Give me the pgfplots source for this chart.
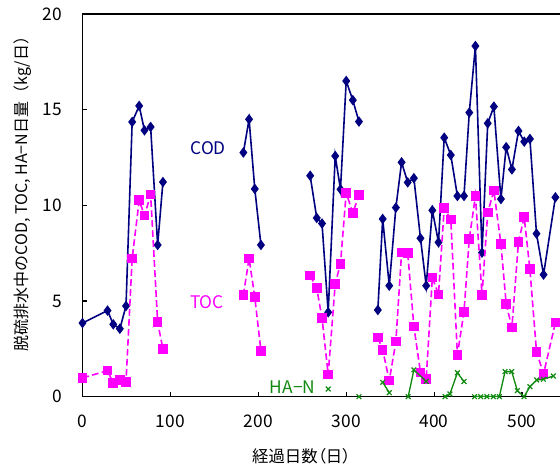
\documentclass[border=0pt]{standalone}
\usepackage{fontspec}
\setmainfont{Noto Sans CJK JP}
\usepackage{pgfplots}
\pgfplotsset{compat=1.18}
\definecolor{codblue}{HTML}{000080}
\definecolor{tocmag}{HTML}{FF00FF}
\definecolor{hangreen}{HTML}{108A10}

\begin{document}
\begin{tikzpicture}
% picture is cut off on the right like the reference (1px = 0.75pt)
\useasboundingbox (-61.875pt,-53.475pt) rectangle (358.125pt,297.5pt);
\begin{axis}[
  at={(0,0)}, anchor=south west,
  x=0.65925pt, y=14.3475pt,
  xmin=0, xmax=600, ymin=0, ymax=20,
  axis line style={line width=1.2pt},
  xtick={0,100,...,500}, ytick={0,5,...,20},
  tick align=inside, xtick pos=bottom, ytick pos=left,
  major tick length=3.5pt, tick style={line width=0.8pt, black},
  /pgf/number format/assume math mode=true,
  ticklabel style={font=\fontsize{13}{15}\selectfont, inner sep=0pt},
  yticklabel style={anchor=east, xshift=-15.4pt},
  xticklabel style={anchor=north, yshift=-13.7pt},
  xlabel={経過日数（日）},
  xlabel style={at={(axis description cs:0.415,-0.155)}, anchor=center, font=\fontsize{12.3}{14}\selectfont\addfontfeatures{RawFeature=+palt}},
  ylabel={脱硫排水中のCOD, TOC, HA−N日量（kg/日）},
  ylabel style={at={(axis description cs:-0.1128,0.54)}, anchor=center, font=\fontsize{12}{14}\selectfont},
  unbounded coords=jump,
  clip mode=individual,
]
% COD
\addplot[codblue, line width=1.2pt, mark=diamond*, mark size=3pt, mark options={fill=codblue}] coordinates {
(0,3.85)(28.5,4.5)(35,3.78)(42.5,3.55)(49.5,4.74)(56.5,14.36)(64.5,15.2)(70.5,13.92)(77.5,14.1)(85.5,7.93)(91.5,11.22)
(140,nan)
(183,12.76)(189.5,14.5)(196,10.86)(203,7.93)
(230,nan)
(259,11.55)(266.5,9.34)(272.5,9.05)(279.5,4.41)(287.5,12.58)(293.5,10.84)(300,16.5)(307.5,15.5)(314.5,14.38)
(325,nan)
(336,4.53)(341.5,9.29)(349,5.8)(356.5,9.88)(363,12.25)(370,11.2)(377,11.42)(384.5,8.28)(391,5.8)(398,9.74)(405,8.07)(411.5,13.54)(419,12.63)(426.5,10.49)(434,10.49)(440,14.85)(447,18.33)(454.5,7.53)(461,14.29)(468,15.16)(476,10.33)(482,13.04)(488.5,11.88)(496,13.89)(502.5,13.33)(509,13.47)(516.5,8.52)(524.5,6.38)(538,10.42)
};
% TOC
\addplot[tocmag, line width=1.2pt, dash pattern=on 5pt off 2.5pt, mark=square*, mark size=3pt, mark options={solid, fill=tocmag}] coordinates {
(0,0.98)(28.5,1.36)(35,0.7)(42.5,0.87)(49.5,0.77)(56.5,7.23)(64.5,10.27)(70.5,9.46)(77.5,10.56)(85.5,3.89)(91.5,2.49)
(140,nan)
(183,5.3)(189.5,7.23)(196,5.2)(203,2.39)
(230,nan)
(259,6.33)(266.5,5.67)(272.5,4.1)(279.5,1.15)(287.5,5.9)(293.5,6.95)(300,10.66)(307.5,9.59)(314.5,10.54)
(325,nan)
(336,3.09)(341.5,2.44)(349,0.84)(356.5,2.88)(363,7.53)(370,7.5)(377,3.66)(384.5,1.27)(391,0.93)(398,6.22)(405,5.35)(411.5,9.85)(419,9.27)(426.5,2.18)(434,4.44)(440,8.24)(447,10.49)(454.5,5.32)(461,9.62)(468,10.77)(476,7.98)(482,4.85)(488.5,3.61)(496,8.1)(502.5,9.38)(509,6.66)(516.5,2.35)(524.5,1.19)(538,3.87)
};
% HA-N
\addplot[hangreen, line width=1pt, mark=x, mark size=2.5pt, mark options={line width=0.9pt}] coordinates {
(279.5,0.4)
(297,nan)
(314.5,0)
(328,nan)
(341.5,0.75)(349,0.21)
(360,nan)
(370.5,0)(377,1.4)(391,0.8)
(400,nan)
(412.5,0)(418,0.14)(426.5,1.25)(434,0.79)
(440,nan)
(446,0)(453,0)(460,0)(467.4,0)(474.2,0)(480.7,1.31)(488.3,1.31)(494.7,0.31)(502.3,0)(509,0.52)(516.7,0.87)(524.3,0.91)(535.6,1.08)
};
\node[text=codblue, font=\fontsize{13}{15}\selectfont] at (axis cs:143,13.0) {COD};
\node[text=tocmag, font=\fontsize{13}{15}\selectfont] at (axis cs:141.6,4.94) {TOC};
\node[text=hangreen, font=\fontsize{13}{15}\selectfont] at (axis cs:239,0.48) {HA−N};
\end{axis}
\end{tikzpicture}
\end{document}
